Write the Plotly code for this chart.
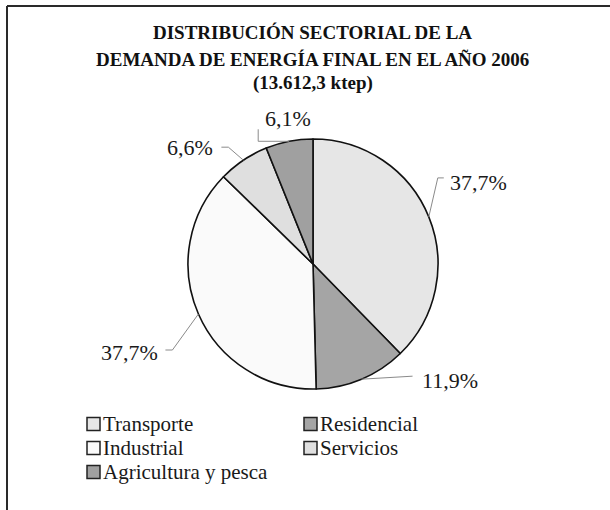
import math
import plotly.graph_objects as go

# Sector shares of final energy demand, 2006 (%)
sectors = ["Transporte", "Residencial", "Industrial", "Servicios", "Agricultura y pesca"]
shares = [37.7, 11.9, 37.7, 6.6, 6.1]
slice_colors = ["#e6e6e6", "#a5a5a5", "#fafafa", "#dfdfdf", "#a0a0a0"]

title_lines = [
    "DISTRIBUCIÓN SECTORIAL DE LA",
    "DEMANDA DE ENERGÍA FINAL EN EL AÑO 2006",
    "(13.612,3 ktep)",
]

# Canvas and pie geometry (pixels)
W, H = 610, 510
CX, CY, R = 313, 264, 125

# Label placement per slice: label anchor offset from the slice's edge point,
# and the leader-line bend / end points offset from the same edge point.
label_offsets = [(19, -34, "left"), (58, 1, "left"), (-38, 38, "right"), (-28, -13, "right"), (-26, -23, "left")]
leader_bends = [(9, -39), (51, -3), (-26, 36), (-15, -13), (-31, 0)]
leader_ends = [(15, -39), (51, -3), (-33, 36), (-22, -13), (-31, -12)]

SERIF = "Liberation Serif"


def px(x):
    return x / W


def py(y):
    return 1 - y / H


fig = go.Figure(
    go.Pie(
        labels=sectors,
        values=shares,
        sort=False,
        direction="clockwise",
        rotation=0,
        textinfo="none",
        hoverinfo="label+percent",
        marker=dict(colors=slice_colors, line=dict(color="#111111", width=1.6)),
        domain=dict(x=[px(CX - R), px(CX + R)], y=[py(CY + R), py(CY - R)]),
        showlegend=False,
    )
)

annotations = []
shapes = []

# Title, one line per annotation
title_rows = [32, 59, 83]
for line, ty in zip(title_lines, title_rows):
    annotations.append(dict(
        x=px(313), y=py(ty), xref="paper", yref="paper",
        xanchor="center", yanchor="middle", text=f"<b>{line}</b>", showarrow=False,
        font=dict(family=SERIF, size=19, color="#111111"),
    ))

# Percent labels with leader lines, anchored at each slice's mid-angle on the rim
total = sum(shares)
cum = 0.0
for i, v in enumerate(shares):
    mid = (cum + v / 2) / total * 2 * math.pi
    cum += v
    ax = CX + R * math.sin(mid)
    ay = CY - R * math.cos(mid)
    dx, dy, side = label_offsets[i]
    bx, by = leader_bends[i]
    ex, ey = leader_ends[i]
    shapes.append(dict(
        type="path", xref="paper", yref="paper",
        path=f"M{px(ax)},{py(ay)} L{px(ax + bx)},{py(ay + by)} L{px(ax + ex)},{py(ay + ey)}",
        line=dict(color="#8a8a8a", width=1),
    ))
    annotations.append(dict(
        x=px(ax + dx), y=py(ay + dy),
        xref="paper", yref="paper", xanchor=side, yanchor="middle",
        text=f"{v:.1f}".replace(".", ",") + "%", showarrow=False,
        font=dict(family=SERIF, size=22, color="#1a1a1a"),
    ))

# Legend: two columns, row-major order
leg_cols = [87, 304]
leg_rows = [424, 448, 472]
BOX = 13
for i, name in enumerate(sectors):
    lx = leg_cols[i % 2]
    ly = leg_rows[i // 2]
    shapes.append(dict(
        type="rect", xref="paper", yref="paper",
        x0=px(lx), x1=px(lx + BOX), y0=py(ly + BOX / 2), y1=py(ly - BOX / 2),
        fillcolor=slice_colors[i], line=dict(color="#222222", width=1.5),
    ))
    annotations.append(dict(
        x=px(lx + BOX + 2), y=py(ly), xref="paper", yref="paper",
        xanchor="left", yanchor="middle", text=name, showarrow=False, borderpad=0,
        font=dict(family=SERIF, size=21, color="#1a1a1a"),
    ))

# Frame edges
shapes.append(dict(type="line", xref="paper", yref="paper", x0=px(7), x1=1.0, y0=py(6), y1=py(6),
                   line=dict(color="#2a2a2a", width=2)))
shapes.append(dict(type="line", xref="paper", yref="paper", x0=px(7), x1=px(7), y0=py(6), y1=0.0,
                   line=dict(color="#2a2a2a", width=2)))

fig.update_layout(
    width=W, height=H,
    margin=dict(l=0, r=0, t=0, b=0),
    paper_bgcolor="white", plot_bgcolor="white",
    annotations=annotations,
    shapes=shapes,
)

fig.write_html("out.html")
